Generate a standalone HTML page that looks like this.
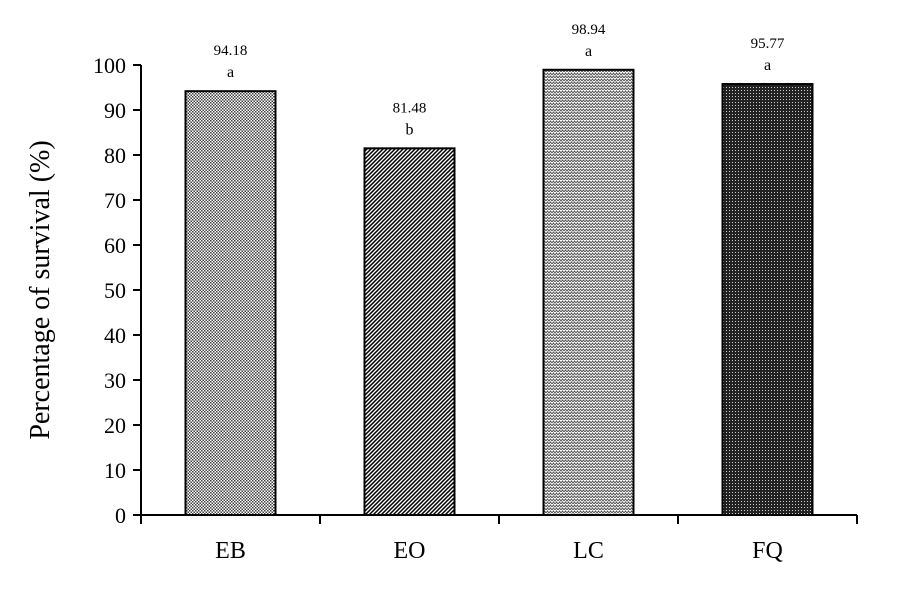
<!DOCTYPE html>
<html><head><meta charset="utf-8"><style>
body{margin:0;background:#fff}
svg text{font-family:"Liberation Serif",serif;fill:#000}
</style></head><body>
<svg id="chart" width="897" height="606" viewBox="0 0 897 606">
<defs>
<pattern id="pEB" width="3" height="3" patternUnits="userSpaceOnUse"><rect width="3" height="3" fill="#fff"/><rect width="1.5" height="1.5" fill="#444"/><rect x="1.5" y="1.5" width="1.5" height="1.5" fill="#444"/></pattern>
<pattern id="pEO" width="4" height="4" patternUnits="userSpaceOnUse"><rect width="4" height="4" fill="#fff"/><path d="M-1,1 L1,-1 M0,4 L4,0 M3,5 L5,3" stroke="#000" stroke-width="1.5"/></pattern>
<pattern id="pLC" width="6" height="6" patternUnits="userSpaceOnUse"><rect width="6" height="6" fill="#fff"/><path d="M0,3 L1.5,1 L3,3 L4.5,1 L6,3" stroke="#555" stroke-width="1" fill="none"/><path d="M0,6 L1.5,4 L3,6 L4.5,4 L6,6" stroke="#555" stroke-width="1" fill="none"/></pattern>
<pattern id="pFQ" width="3" height="3" patternUnits="userSpaceOnUse"><rect width="3" height="3" fill="#222"/><rect width="1" height="1" fill="#ccc"/></pattern>
</defs>
<g id="plot"></g>
</svg>
<script>
const categories=["EB","EO","LC","FQ"];
const values=[94.18,81.48,98.94,95.77];
const letters=["a","b","a","a"];
const yTicks=[0,10,20,30,40,50,60,70,80,90,100];
const fills=["url(#pEB)","url(#pEO)","url(#pLC)","url(#pFQ)"];
const NS="http://www.w3.org/2000/svg";
const g=document.getElementById("plot");
const x0=141,x1=857,y0=515,yTop=65;
const y=v=>y0-(v/100)*(y0-yTop);
const bw=(x1-x0)/categories.length;
const xc=i=>x0+bw*(i+0.5);
function mk(t,a){const e=document.createElementNS(NS,t);for(const k in a)e.setAttribute(k,a[k]);g.appendChild(e);return e;}
yTicks.forEach(t=>{
 const l=mk("line",{x1:133,x2:x0,y1:y(t),y2:y(t),stroke:"#000","stroke-width":2});
 
 
 const tx=mk("text",{x:126,y:y(t)+8,"text-anchor":"end","font-size":22});
 tx.textContent=t;
 
 
});
categories.forEach((c,i)=>{
 const v=values[i];
 const r=mk("rect",{x:xc(i)-45,y:y(v),width:90,height:y0-y(v),fill:fills[i],stroke:"#000","stroke-width":2});
 
 
 const vl=mk("text",{x:xc(i),y:y(v)-36,"text-anchor":"middle","font-size":15});
 vl.textContent=v.toFixed(2);
 
 
 const lt=mk("text",{x:xc(i),y:y(v)-14,"text-anchor":"middle","font-size":16});
 lt.textContent=letters[i];
 
 
 const cl=mk("text",{x:xc(i),y:558,"text-anchor":"middle","font-size":24});
 cl.textContent=c;
 
 
});
for(let i=0;i<=categories.length;i++){
 const t=mk("line",{x1:x0+bw*i,x2:x0+bw*i,y1:y0,y2:y0+9,stroke:"#000","stroke-width":2});
 
 
}
const ya=mk("line",{x1:x0,x2:x0,y1:yTop,y2:y0,stroke:"#000","stroke-width":2});


const xa=mk("line",{x1:x0,x2:x1,y1:y0,y2:y0,stroke:"#000","stroke-width":2});


const yt=mk("text",{x:0,y:0,"text-anchor":"middle","font-size":28,transform:"translate(49,290) rotate(-90)"});
yt.textContent="Percentage of survival (%)";


</script>
</body></html>
